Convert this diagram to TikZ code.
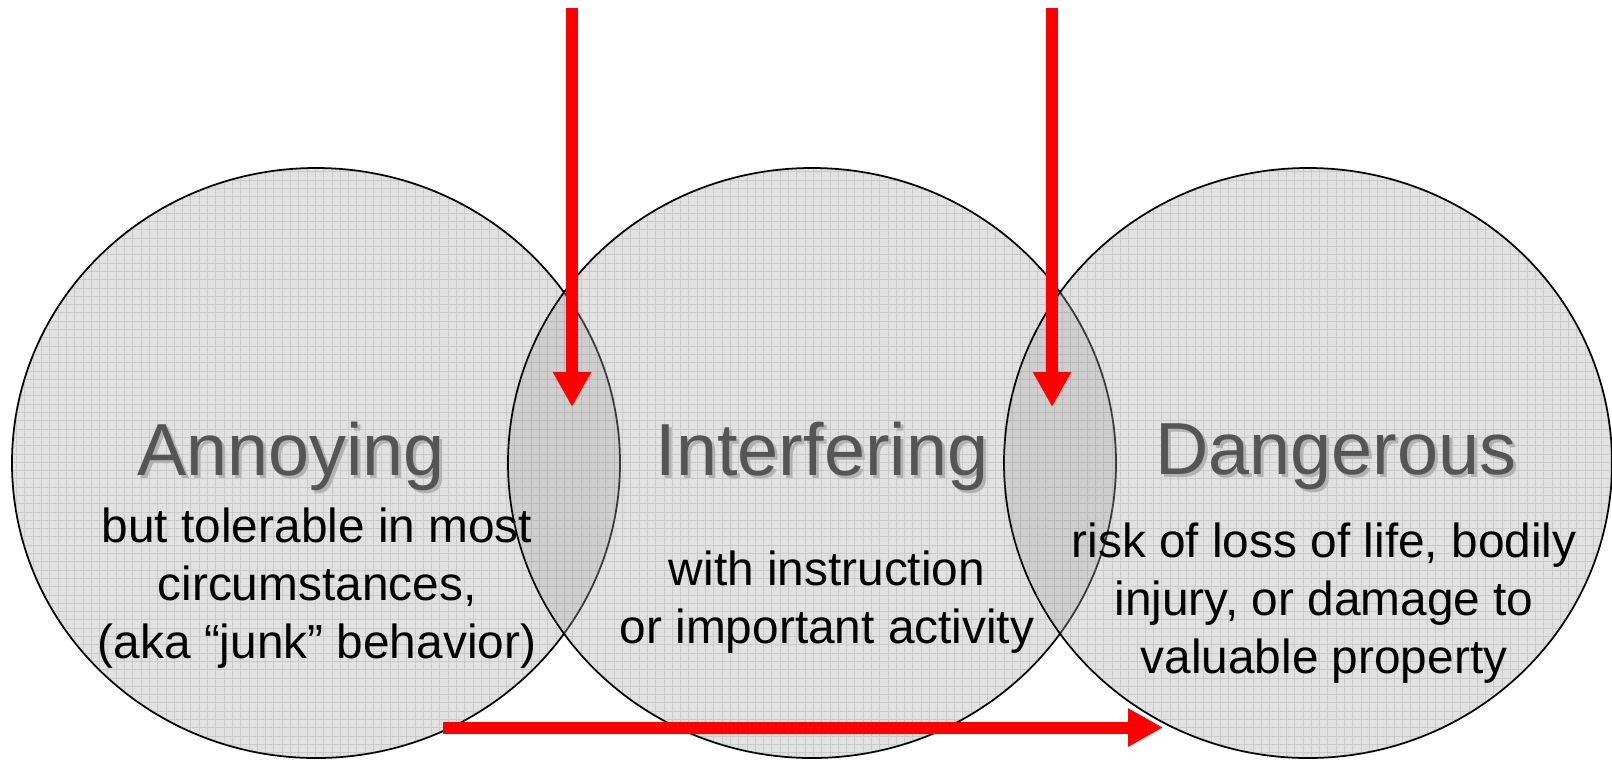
\documentclass[tikz,border=0pt]{standalone}
\usepackage{fontspec}
\setmainfont{Liberation Sans}
\usetikzlibrary{arrows.meta, calc}
\definecolor{discfill}{RGB}{165,165,165}
\definecolor{gridcol}{RGB}{120,120,120}
\definecolor{titlecol}{RGB}{85,85,85}
\definecolor{shadowcol}{RGB}{178,178,178}
\definecolor{arrowcol}{RGB}{255,0,0}

% text with a soft drop shadow (used for the three headings)
\newcommand{\shadowed}[1]{%
  \makebox[0pt][l]{\hspace{0.03cm}\raisebox{-0.03cm}{\textcolor{shadowcol}{#1}}}%
  \textcolor{titlecol}{#1}}

\begin{document}
\begin{tikzpicture}[
    disc/.style={fill=discfill, fill opacity=0.33, draw=black, line width=0.5pt},
    heading/.style={font=\fontsize{21}{25}\selectfont, anchor=base, inner sep=0pt},
    body/.style={font=\fontsize{13.6}{16.4}\selectfont, align=center, anchor=base, inner sep=0pt},
    arr/.style={-{Triangle[length=0.35cm, width=0.36cm]}, line width=0.12cm, arrowcol},
]

\path[use as bounding box] (0,0) rectangle (16.12,7.61);

% ════════════════════════════════════════════════════════
% 1. THREE OVERLAPPING DISCS
% ════════════════════════════════════════════════════════
\coordinate (annoyC)  at (3.16, 2.98);
\coordinate (interfC) at (8.12, 2.98);
\coordinate (dangerC) at (13.08, 2.98);

\draw[disc] (annoyC)  ellipse [x radius=3.04, y radius=2.95];
\draw[disc] (interfC) ellipse [x radius=3.04, y radius=2.95];
\draw[disc] (dangerC) ellipse [x radius=3.04, y radius=2.95];

% faint grid texture inside the discs
\begin{scope}
  \clip (annoyC)  ellipse [x radius=3.04, y radius=2.95]
        (interfC) ellipse [x radius=3.04, y radius=2.95]
        (dangerC) ellipse [x radius=3.04, y radius=2.95];
  \draw[gridcol, line width=0.25pt, opacity=0.22, step=0.083] (0,0) grid (16.12,7.61);
\end{scope}

% ════════════════════════════════════════════════════════
% 2. LABELS  (body nodes sit on their last baseline)
% ════════════════════════════════════════════════════════
\node[heading] (annoyT)  at ($(annoyC)+(-0.25,-0.12)$)  {\shadowed{Annoying}};
\node[heading] (interfT) at ($(interfC)+(0.10,-0.12)$)  {\shadowed{Interfering}};
\node[heading] (dangerT) at ($(dangerC)+(0.28,-0.11)$)  {\shadowed{Dangerous}};

\node[body] (annoyB) at ($(annoyC)+(0.01,-1.95)$)
    {but tolerable in most\\circumstances,\\(aka “junk” behavior)};
\node[body] (interfB) at ($(interfC)+(0.15,-1.80)$)
    {with instruction\\or important activity};
\node[body] (dangerB) at ($(dangerC)+(0.16,-2.10)$)
    {risk of loss of life, bodily\\injury, or damage to\\valuable property};

% ════════════════════════════════════════════════════════
% 3. RED ARROWS
% ════════════════════════════════════════════════════════
\coordinate (dropA)  at (5.72, 7.53);
\coordinate (hitA)   at (5.72, 3.54);
\coordinate (dropB)  at (10.52, 7.53);
\coordinate (hitB)   at (10.52, 3.54);
\coordinate (sweepS) at (4.43, 0.335);
\coordinate (sweepE) at (11.63, 0.335);

\draw[arr] (dropA) -- (hitA);
\draw[arr] (dropB) -- (hitB);
\draw[arr] (sweepS) -- (sweepE);

\end{tikzpicture}
\end{document}
